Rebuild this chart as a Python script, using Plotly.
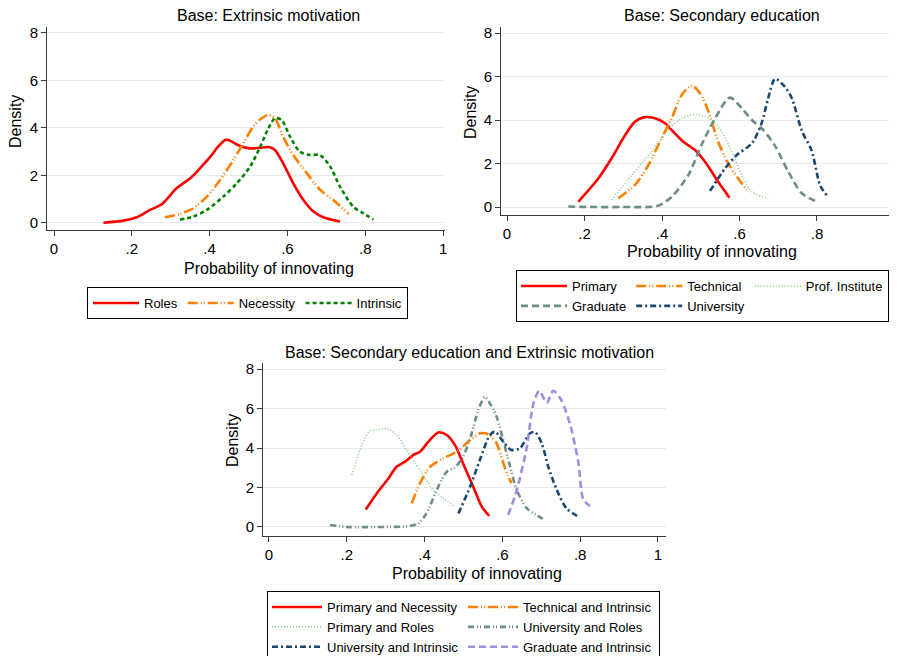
import plotly.graph_objects as go

# The browser page keeps its default 8px body margin, so the figure is placed at (8, 8)
OX, OY = 8, 8
W, H = 897 - OX, 656 - OY

# ---------------- Panel 1: Base: Extrinsic motivation ----------------
p1_roles_x = [0.127, 0.178, 0.213, 0.247, 0.277, 0.315, 0.350, 0.375, 0.401, 0.422, 0.440, 0.448,
              0.478, 0.504, 0.530, 0.555, 0.568, 0.589, 0.615, 0.641, 0.667, 0.692, 0.735]
p1_roles_y = [0.01, 0.10, 0.24, 0.55, 0.79, 1.46, 1.88, 2.30, 2.77, 3.21, 3.49, 3.49,
              3.24, 3.14, 3.17, 3.19, 3.07, 2.51, 1.67, 0.97, 0.48, 0.24, 0.06]
p1_necessity_x = [0.285, 0.324, 0.358, 0.393, 0.427, 0.461, 0.487, 0.512, 0.534, 0.551, 0.568,
                  0.589, 0.615, 0.650, 0.684, 0.718, 0.757]
p1_necessity_y = [0.24, 0.38, 0.62, 1.11, 1.81, 2.65, 3.36, 4.06, 4.41, 4.55, 4.41,
                  3.63, 2.86, 2.09, 1.40, 0.97, 0.38]
p1_intrinsic_x = [0.324, 0.358, 0.393, 0.435, 0.470, 0.504, 0.530, 0.551, 0.568, 0.585, 0.607,
                  0.632, 0.658, 0.684, 0.710, 0.735, 0.769, 0.795, 0.821]
p1_intrinsic_y = [0.15, 0.27, 0.55, 1.11, 1.67, 2.37, 3.21, 3.98, 4.41, 4.34, 3.63,
                  3.00, 2.86, 2.86, 2.37, 1.53, 0.69, 0.41, 0.15]

# ---------------- Panel 2: Base: Secondary education ----------------
p2_primary_x = [0.184, 0.236, 0.270, 0.305, 0.330, 0.352, 0.382, 0.408, 0.429, 0.455, 0.485, 0.511, 0.545, 0.574]
p2_primary_y = [0.24, 1.32, 2.24, 3.31, 3.92, 4.12, 4.08, 3.85, 3.46, 3.00, 2.62, 2.08, 1.16, 0.43]
p2_technical_x = [0.287, 0.330, 0.365, 0.399, 0.425, 0.451, 0.477, 0.498, 0.520, 0.545, 0.571, 0.597, 0.619]
p2_technical_y = [0.40, 1.01, 1.93, 3.16, 4.08, 5.15, 5.58, 5.23, 4.38, 3.00, 2.00, 1.30, 0.78]
p2_prof_x = [0.270, 0.322, 0.373, 0.416, 0.451, 0.490, 0.528, 0.554, 0.580, 0.606, 0.632, 0.674]
p2_prof_y = [0.32, 1.47, 2.54, 3.54, 4.08, 4.26, 4.00, 3.46, 2.54, 1.47, 0.70, 0.40]
p2_graduate_x = [0.158, 0.210, 0.296, 0.390, 0.425, 0.468, 0.502, 0.537, 0.575, 0.606, 0.632,
                 0.661, 0.692, 0.726, 0.761, 0.803]
p2_graduate_y = [0.02, 0.00, 0.00, 0.06, 0.47, 1.47, 2.85, 4.08, 5.03, 4.54, 4.00,
                 3.55, 2.80, 1.62, 0.63, 0.22]
p2_university_x = [0.524, 0.563, 0.593, 0.632, 0.657, 0.674, 0.692, 0.717, 0.735, 0.761, 0.786, 0.808, 0.826]
p2_university_y = [0.74, 1.78, 2.39, 2.93, 3.85, 5.00, 5.89, 5.53, 5.00, 3.50, 2.60, 1.00, 0.52]

# -------- Panel 3: Base: Secondary education and Extrinsic motivation --------
p3_prim_nec_x = [0.249, 0.277, 0.307, 0.328, 0.350, 0.371, 0.388, 0.410, 0.435, 0.457, 0.478,
                 0.499, 0.525, 0.547, 0.566]
p3_prim_nec_y = [0.89, 1.70, 2.46, 3.05, 3.31, 3.65, 3.81, 4.32, 4.79, 4.66, 4.15,
                 3.22, 2.04, 1.03, 0.56]
p3_tech_int_x = [0.367, 0.388, 0.414, 0.448, 0.483, 0.517, 0.542, 0.564, 0.585, 0.607, 0.623]
p3_tech_int_y = [1.20, 2.21, 3.05, 3.48, 3.81, 4.40, 4.74, 4.69, 4.24, 2.97, 2.21]
p3_prim_roles_x = [0.213, 0.234, 0.258, 0.285, 0.302, 0.328, 0.354, 0.388, 0.422, 0.448, 0.474]
p3_prim_roles_y = [2.63, 3.90, 4.85, 4.94, 5.00, 4.66, 3.90, 2.89, 1.87, 1.45, 1.06]
p3_univ_roles_x = [0.157, 0.200, 0.277, 0.362, 0.384, 0.405, 0.431, 0.457, 0.478, 0.499, 0.521,
                   0.538, 0.555, 0.568, 0.585, 0.602, 0.620, 0.637, 0.663, 0.688, 0.709]
p3_univ_roles_y = [0.10, 0.00, 0.00, 0.05, 0.19, 0.69, 1.87, 2.80, 3.02, 3.56, 4.74,
                   5.92, 6.57, 6.26, 5.59, 4.41, 3.05, 1.87, 0.94, 0.61, 0.35]
p3_univ_int_x = [0.487, 0.517, 0.542, 0.568, 0.581, 0.602, 0.623, 0.645, 0.671, 0.684, 0.701,
                 0.718, 0.740, 0.765, 0.799]
p3_univ_int_y = [0.69, 2.04, 3.39, 4.66, 4.83, 4.32, 3.90, 3.99, 4.74, 4.80, 4.24,
                 3.05, 1.87, 0.94, 0.49]
p3_grad_int_x = [0.615, 0.637, 0.663, 0.680, 0.695, 0.714, 0.731, 0.752, 0.774, 0.795, 0.808, 0.825]
p3_grad_int_y = [0.61, 1.87, 4.07, 6.26, 6.90, 6.29, 6.90, 6.40, 5.20, 3.30, 1.40, 1.06]

x_tickvals = [0, 0.2, 0.4, 0.6, 0.8, 1]
x_ticktext = ["0", ".2", ".4", ".6", ".8", "1"]
y_tickvals = [0, 2, 4, 6, 8]

RED = "#ff0000"
ORANGE = "#ff8000"
GREEN = "#008000"
LTGREEN = "#7fc97f"
TEAL = "#6e8e84"
NAVY = "#1a476f"
LAVENDER = "#9b8fe0"

D_SOLID = "solid"
D_LDOT = "10px,3px,1px,2px,1px,3px"
D_SHORT = "4px,3px"
D_DOT = "1px,2px"
D_DASH = "7px,4px"
D_DASHDOT = "6px,3px,2px,3px"
D_DASHDOTDOT = "6px,3px,1px,2px,1px,3px"

FONT = "Arial, Liberation Sans, sans-serif"

fig = go.Figure()


def add(x, y, name, color, dash, width, ax, legend, group=None):
    fig.add_trace(go.Scatter(
        x=x, y=y, mode="lines", name=name,
        line=dict(color=color, dash=dash, width=width, shape="spline", smoothing=0.8),
        xaxis="x" + ax, yaxis="y" + ax, legend=legend, legendgroup=group,
        hoverinfo="skip"))


add(p1_roles_x, p1_roles_y, "Roles", RED, D_SOLID, 2.6, "", "legend")
add(p1_necessity_x, p1_necessity_y, "Necessity", ORANGE, D_LDOT, 2.6, "", "legend")
add(p1_intrinsic_x, p1_intrinsic_y, "Intrinsic", GREEN, D_SHORT, 2.6, "", "legend")

add(p2_primary_x, p2_primary_y, "Primary", RED, D_SOLID, 2.6, "2", "legend2", "c1")
add(p2_technical_x, p2_technical_y, "Technical", ORANGE, D_LDOT, 2.6, "2", "legend2", "c2")
add(p2_prof_x, p2_prof_y, "Prof. Institute", LTGREEN, D_DOT, 1.5, "2", "legend2", "c3")
add(p2_graduate_x, p2_graduate_y, "Graduate", TEAL, D_DASH, 2.6, "2", "legend2", "c1")
add(p2_university_x, p2_university_y, "University", NAVY, D_DASHDOT, 2.6, "2", "legend2", "c2")

add(p3_prim_nec_x, p3_prim_nec_y, "Primary and Necessity", RED, D_SOLID, 2.6, "3", "legend3", "d1")
add(p3_tech_int_x, p3_tech_int_y, "Technical and Intrinsic", ORANGE, D_LDOT, 2.6, "3", "legend3", "d2")
add(p3_prim_roles_x, p3_prim_roles_y, "Primary and Roles", LTGREEN, D_DOT, 1.5, "3", "legend3", "d1")
add(p3_univ_roles_x, p3_univ_roles_y, "University and Roles", TEAL, D_DASHDOTDOT, 2.6, "3", "legend3", "d2")
add(p3_univ_int_x, p3_univ_int_y, "University and Intrinsic", NAVY, D_DASHDOT, 2.6, "3", "legend3", "d1")
add(p3_grad_int_x, p3_grad_int_y, "Graduate and Intrinsic", LAVENDER, D_DASH, 2.6, "3", "legend3", "d2")


def fx(px):
    return (px - OX) / W


def fy(py):
    return 1 - (py - OY) / H


AXCOL = "#3a3a3a"
GRID = "#e2ecee"


def xaxis(dom, rng, anchor):
    return dict(domain=[fx(dom[0]), fx(dom[1])], range=rng, anchor=anchor,
                tickvals=x_tickvals, ticktext=x_ticktext, showgrid=False, zeroline=False,
                showline=True, linecolor=AXCOL, linewidth=1, ticks="outside", ticklen=5,
                tickcolor=AXCOL, tickfont=dict(size=15, color="black"))


def yaxis(dom, rng, anchor):
    return dict(domain=[fy(dom[1]), fy(dom[0])], range=rng, anchor=anchor,
                tickvals=y_tickvals, showgrid=True, gridcolor=GRID, gridwidth=1, zeroline=False,
                showline=True, linecolor=AXCOL, linewidth=1, ticks="outside", ticklen=5,
                tickcolor=AXCOL, tickfont=dict(size=15, color="black"))


legend_common = dict(orientation="h", xanchor="left", yanchor="top", xref="paper", yref="paper",
                     bordercolor="black", borderwidth=1, bgcolor="white",
                     font=dict(size=13, color="black", family=FONT))

annotations = []


def text(x, y, s, angle=0, size=16):
    annotations.append(dict(x=fx(x), y=fy(y), xref="paper", yref="paper", text=s,
                            showarrow=False, textangle=angle,
                            font=dict(size=size, color="black", family=FONT),
                            xanchor="center", yanchor="middle"))


text(268, 15, "Base: Extrinsic motivation")
text(722, 15, "Base: Secondary education")
text(470, 352, "Base: Secondary education and Extrinsic motivation")
text(269, 268, "Probability of innovating")
text(712, 251, "Probability of innovating")
text(477, 573, "Probability of innovating")
text(15, 122, "Density", angle=-90)
text(471, 113, "Density", angle=-90)
text(232, 441, "Density", angle=-90)

fig.update_layout(
    width=W, height=H,
    margin=dict(l=0, r=0, t=0, b=0, autoexpand=False),
    paper_bgcolor="white", plot_bgcolor="white",
    font=dict(family=FONT, color="black"),
    xaxis=xaxis((47, 445), [-0.018, 1.005], "y"),
    yaxis=yaxis((27, 230), [-0.295, 8.25], "x"),
    xaxis2=xaxis((501, 897), [-0.0155, 1.0065], "y2"),
    yaxis2=yaxis((27, 215), [-0.368, 8.276], "x2"),
    xaxis3=xaxis((263, 666), [-0.0154, 1.0206], "y3"),
    yaxis3=yaxis((363, 536), [-0.456, 8.304], "x3"),
    legend=dict(legend_common, x=fx(87), y=fy(287), traceorder="normal", itemwidth=46),
    legend2=dict(legend_common, x=fx(516), y=fy(270), traceorder="grouped",
                 tracegroupgap=0, itemwidth=46),
    legend3=dict(legend_common, x=fx(267), y=fy(591), traceorder="grouped",
                 tracegroupgap=0, entrywidth=131, itemwidth=50),
    annotations=annotations,
    showlegend=True,
)

fig.write_html("out.html")
